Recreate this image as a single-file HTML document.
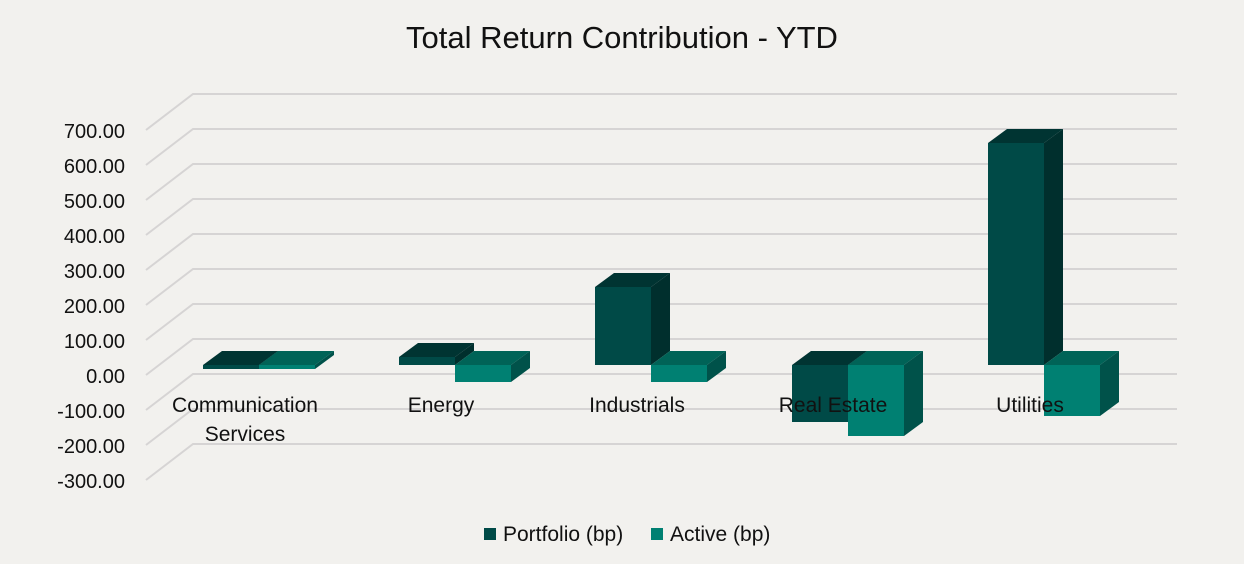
<!DOCTYPE html>
<html><head><meta charset="utf-8"><style>
body{margin:0;background:#f2f1ee;}
svg{display:block;font-family:"Liberation Sans",sans-serif;}
</style></head><body>
<svg width="1244" height="564" viewBox="0 0 1244 564">
<rect width="1244" height="564" fill="#f2f1ee"/>
<text x="622" y="48" font-size="31" text-anchor="middle" fill="#111">Total Return Contribution - YTD</text>
<g stroke="#d6d4d4" stroke-width="2" fill="none">
<path d="M146,130L193,94H1177M146,165L193,129H1177M146,200L193,164H1177M146,235L193,199H1177M146,270L193,234H1177M146,305L193,269H1177M146,340L193,304H1177M146,375L193,339H1177M146,410L193,374H1177M146,445L193,409H1177M146,480L193,444H1177"/>
</g>
<g font-size="20" fill="#111" text-anchor="end">
<text x="125" y="138">700.00</text><text x="125" y="173">600.00</text><text x="125" y="208">500.00</text><text x="125" y="243">400.00</text><text x="125" y="278">300.00</text><text x="125" y="313">200.00</text><text x="125" y="348">100.00</text><text x="125" y="383">0.00</text><text x="125" y="418">-100.00</text><text x="125" y="453">-200.00</text><text x="125" y="488">-300.00</text>
</g>
<!-- Communication -->
<rect x="203" y="365" width="56" height="4" fill="#004a47"/>
<polygon points="203,365 222,351 278,351 259,365" fill="#003432"/>
<polygon points="259,365 278,351 278,355 259,369" fill="#002f2d"/>
<rect x="259" y="365" width="56" height="4" fill="#008072"/>
<polygon points="259,365 278,351 334,351 315,365" fill="#006357"/>
<polygon points="315,365 334,351 334,355 315,369" fill="#00524a"/>
<!-- Energy -->
<rect x="399" y="357" width="56" height="8" fill="#004a47"/>
<polygon points="399,357 418,343 474,343 455,357" fill="#003432"/>
<polygon points="455,357 474,343 474,351 455,365" fill="#002f2d"/>
<rect x="455" y="365" width="56" height="17" fill="#008072"/>
<polygon points="455,365 474,351 530,351 511,365" fill="#006357"/>
<polygon points="511,365 530,351 530,368 511,382" fill="#00524a"/>
<!-- Industrials -->
<rect x="595" y="287" width="56" height="78" fill="#004a47"/>
<polygon points="595,287 614,273 670,273 651,287" fill="#003432"/>
<polygon points="651,287 670,273 670,351 651,365" fill="#002f2d"/>
<rect x="651" y="365" width="56" height="17" fill="#008072"/>
<polygon points="651,365 670,351 726,351 707,365" fill="#006357"/>
<polygon points="707,365 726,351 726,368 707,382" fill="#00524a"/>
<!-- Real Estate -->
<rect x="792" y="365" width="56" height="57" fill="#004a47"/>
<polygon points="792,365 811,351 867,351 848,365" fill="#003432"/>
<polygon points="848,365 867,351 867,408 848,422" fill="#002f2d"/>
<rect x="848" y="365" width="56" height="71" fill="#008072"/>
<polygon points="848,365 867,351 923,351 904,365" fill="#006357"/>
<polygon points="904,365 923,351 923,422 904,436" fill="#00524a"/>
<!-- Utilities -->
<rect x="988" y="143" width="56" height="222" fill="#004a47"/>
<polygon points="988,143 1007,129 1063,129 1044,143" fill="#003432"/>
<polygon points="1044,143 1063,129 1063,351 1044,365" fill="#002f2d"/>
<rect x="1044" y="365" width="56" height="51" fill="#008072"/>
<polygon points="1044,365 1063,351 1119,351 1100,365" fill="#006357"/>
<polygon points="1100,365 1119,351 1119,402 1100,416" fill="#00524a"/>
<g font-size="21" fill="#111" text-anchor="middle">
<text x="245" y="412">Communication</text><text x="245" y="441">Services</text>
<text x="441" y="412">Energy</text><text x="637" y="412">Industrials</text>
<text x="833" y="412">Real Estate</text><text x="1030" y="412">Utilities</text>
</g>
<rect x="484" y="528" width="12" height="12" fill="#004a47"/>
<text x="503" y="541" font-size="21" fill="#111">Portfolio (bp)</text>
<rect x="651" y="528" width="12" height="12" fill="#008072"/>
<text x="670" y="541" font-size="21" fill="#111">Active (bp)</text>
</svg>
</body></html>
